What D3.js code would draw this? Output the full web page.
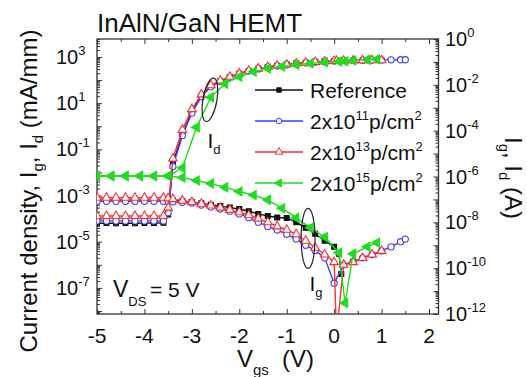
<!DOCTYPE html>
<html>
<head>
<meta charset="utf-8">
<script src="https://cdn.jsdelivr.net/npm/d3@7"></script>
<style>
  body { margin: 0; background: #fff; }
  svg { display: block; font-family: "Liberation Sans", Arial, sans-serif; }
</style>
</head>
<body>
<svg id="chart" width="527" height="377"></svg>
<script>
// ---- data (Vgs in V, Id/Ig in mA/mm) ----
const vRef = [-5, -4.8, -4.6, -4.4, -4.2, -4, -3.8, -3.6, -3.5, -3.4, -3.2, -3, -2.8, -2.6, -2.4, -2.2, -2,
  -1.8, -1.6, -1.4, -1.2, -1, -0.8, -0.6, -0.4, -0.2, 0, 0.1, 0.15];
const idRef = [6.3e-5, 6.4e-5, 6.3e-5, 6.4e-5, 6.3e-5, 6.4e-5, 6.5e-5, 6.6e-5, 1.5e-4, 0.025, 0.45, 4.2, 20, 55, 90, 135, 190,
  250, 310, 370, 420, 470, 520, 570, 620, 650, 680, 690, 690];
const igRef = [6.5e-4, 6.5e-4, 6.5e-4, 6.5e-4, 6.5e-4, 6.5e-4, 6.5e-4, 6.5e-4, 6.4e-4, 6.2e-4, 5.8e-4, 5.3e-4, 4.6e-4, 4e-4, 3.5e-4, 3e-4, 2.6e-4,
  2.1e-4, 1.6e-4, 1.3e-4, 1.12e-4, 1.07e-4, 7e-5, 4e-5, 2.2e-5, 1.1e-5, 6e-6, 3e-6, 4e-7];

const vP11 = [-5, -4.8, -4.6, -4.4, -4.2, -4, -3.8, -3.6, -3.5, -3.4, -3.2, -3, -2.8, -2.6, -2.4, -2.2, -2,
  -1.8, -1.6, -1.4, -1.2, -1, -0.8, -0.6, -0.4, -0.2, 0, 0.2, 0.4, 0.6, 0.8, 1, 1.2, 1.4, 1.5];
const idP11 = [8e-5, 8e-5, 8e-5, 8e-5, 8e-5, 8e-5, 8e-5, 8e-5, 1.8e-4, 0.018, 0.4, 3.8, 19, 52, 88, 132, 185,
  245, 305, 360, 410, 460, 510, 560, 600, 640, 670, 695, 715, 730, 740, 750, 755, 760, 760];
const igP11 = [5.6e-4, 5.6e-4, 5.6e-4, 5.6e-4, 5.6e-4, 5.6e-4, 5.6e-4, 5.6e-4, 5.5e-4, 5.4e-4, 5.1e-4, 4.7e-4, 3.9e-4, 3.2e-4, 2.6e-4, 2.1e-4, 1.6e-4,
  1.1e-4, 7e-5, 4.6e-5, 3.2e-5, 2.1e-5, 1.3e-5, 7e-6, 4.2e-6, 2e-6, 1.6e-7, 1e-6, 1.4e-6, 2e-6, 2.8e-6, 4e-6, 6e-6, 1e-5, 1.3e-5];

const vP13 = [-5, -4.8, -4.6, -4.4, -4.2, -4, -3.8, -3.6, -3.5, -3.4, -3.2, -3, -2.8, -2.6, -2.4, -2.2, -2,
  -1.8, -1.6, -1.4, -1.2, -1, -0.8, -0.6, -0.4, -0.2, 0, 0.05, 0.2, 0.4, 0.6, 0.8, 1];
const idP13 = [1.3e-4, 1.3e-4, 1.3e-4, 1.3e-4, 1.3e-4, 1.3e-4, 1.3e-4, 1.3e-4, 3e-4, 0.04, 0.7, 5.5, 24, 60, 95, 140, 195,
  255, 315, 370, 420, 470, 520, 565, 605, 640, 670, 675, 690, 705, 715, 720, 725];
const igP13 = [8e-4, 8e-4, 8e-4, 8e-4, 8e-4, 8e-4, 8e-4, 8e-4, 7.5e-4, 7e-4, 6e-4, 5.2e-4, 4.4e-4, 3.7e-4, 3e-4, 2.4e-4, 1.9e-4,
  1.4e-4, 1e-4, 7e-5, 4.6e-5, 3.3e-5, 2.1e-5, 1.1e-5, 5.5e-6, 2.8e-6, 1.3e-6, 1e-9, 1e-6, 1.3e-6, 2e-6, 2.8e-6, 4e-6];

const vP15 = [-5, -4.7, -4.4, -4.1, -3.8, -3.5, -3.2, -2.9, -2.6, -2.3, -2, -1.7, -1.4, -1.1, -0.8, -0.5, -0.2, 0.1, 0.23, 0.4, 0.7, 0.9];
const idP15 = [7e-3, 7e-3, 7e-3, 7e-3, 7e-3, 7e-3, 0.016, 0.9, 18, 70, 140, 230, 320, 390, 460, 530, 590, 640, 660, 700, 770, 800];
const igP15 = [7e-3, 7e-3, 7e-3, 7e-3, 7e-3, 7e-3, 6e-3, 4.5e-3, 3.3e-3, 2.3e-3, 1.5e-3, 1.05e-3, 6.5e-4, 2.8e-4, 1.1e-4, 4e-5, 1.6e-5, 3.3e-6, 2.2e-8, 3e-6, 6e-6, 9e-6];

const seriesNames = ["Reference", "2x10", "2x10", "2x10"];
const seriesExp = [null, "11", "13", "15"];
const xTicks = [-5, -4, -3, -2, -1, 0, 1, 2];
const leftExps = [3, 1, -1, -3, -5, -7];
const rightExps = [0, -2, -4, -6, -8, -10, -12];

// ---- layout ----
const svg = d3.select("#chart");
const L = 97, R = 438.5, T = 39, B = 314;
const font = 20;

const x = d3.scaleLinear().domain([-5, 2.2]).range([L, R]);
const yL = d3.scaleLog().domain([Math.pow(10, -8.13), Math.pow(10, 3.78)]).range([B, T]);
const yR = d3.scaleLog().domain([1e-12, 1]).range([B, T]);

svg.append("defs").append("clipPath").attr("id", "plotclip")
  .append("rect").attr("x", L).attr("y", T).attr("width", R - L).attr("height", B - T);

// ticks (inward, all four sides)
function decadeTicks(scale) {
  const [lo, hi] = scale.domain();
  const major = [], minor = [];
  for (let e = Math.floor(Math.log10(lo)); e <= Math.ceil(Math.log10(hi)); e++) {
    for (let m = 1; m < 10; m++) {
      const v = m * Math.pow(10, e);
      if (v < lo || v > hi) continue;
      (m === 1 ? major : minor).push(v);
    }
  }
  return { major, minor };
}
const lt = decadeTicks(yL), rt = decadeTicks(yR);
const xMinor = d3.range(-4.5, 2.2, 1);

function addAxis(axis, tr) {
  const g = svg.append("g").attr("transform", tr).call(axis);
  g.select(".domain").remove();
  g.selectAll("line").attr("stroke", "#333").attr("stroke-width", 1);
  g.selectAll("text").remove();
}
addAxis(d3.axisLeft(yL).tickValues(lt.major).tickSize(-5), `translate(${L},0)`);
addAxis(d3.axisLeft(yL).tickValues(lt.minor).tickSize(-3), `translate(${L},0)`);
addAxis(d3.axisRight(yR).tickValues(rt.major).tickSize(-5), `translate(${R},0)`);
addAxis(d3.axisRight(yR).tickValues(rt.minor).tickSize(-3), `translate(${R},0)`);
addAxis(d3.axisBottom(x).tickValues(xTicks).tickSize(-5), `translate(0,${B})`);
addAxis(d3.axisBottom(x).tickValues(xMinor).tickSize(-3), `translate(0,${B})`);
addAxis(d3.axisTop(x).tickValues(xTicks).tickSize(-5), `translate(0,${T})`);
addAxis(d3.axisTop(x).tickValues(xMinor).tickSize(-3), `translate(0,${T})`);

svg.append("rect").attr("x", L).attr("y", T).attr("width", R - L).attr("height", B - T)
  .attr("fill", "none").attr("stroke", "#333").attr("stroke-width", 1.3);

// tick labels
svg.append("g").selectAll("text").data(xTicks).join("text")
  .attr("x", d => x(d)).attr("y", 343).attr("text-anchor", "middle")
  .attr("font-size", 21).attr("fill", "#111")
  .text(d => d < 0 ? "-" + Math.abs(d) : d);

function powLabels(exps, scale, x0) {
  const t = svg.append("g").selectAll("text").data(exps).join("text")
    .attr("x", x0).attr("y", d => scale(Math.pow(10, d)) + 7)
    .attr("font-size", font).attr("fill", "#111");
  t.append("tspan").text("10");
  t.append("tspan").attr("font-size", 13).attr("dy", -9)
    .text(d => d < 0 ? "-" + Math.abs(d) : d);
}
powLabels(leftExps, yL, 56);
powLabels(rightExps, yR, 445);

// curves
const series = [
  { v: vRef, id: idRef, ig: igRef, color: "#111", sym: d3.symbolSquare, size: 24, fill: "#111", rot: 0 },
  { v: vP11, id: idP11, ig: igP11, color: "#3c3cff", sym: d3.symbolCircle, size: 30, fill: "#fff", rot: 0 },
  { v: vP13, id: idP13, ig: igP13, color: "#ff2d2d", sym: d3.symbolTriangle, size: 32, fill: "#fff", rot: 0 },
  { v: vP15, id: idP15, ig: igP15, color: "#1fdc1f", sym: d3.symbolTriangle, size: 36, fill: "#1fdc1f", rot: -90 }
];

const plot = svg.append("g").attr("clip-path", "url(#plotclip)");
const line = d3.line().x(d => x(d[0])).y(d => yL(d[1]));

series.forEach(s => {
  [s.id, s.ig].forEach(vals => {
    const pts = s.v.map((v, i) => [v, vals[i]]);
    plot.append("path").attr("d", line(pts))
      .attr("fill", "none").attr("stroke", s.color).attr("stroke-width", 1.4);
    plot.append("g").selectAll("path").data(pts).join("path")
      .attr("d", d3.symbol().type(s.sym).size(s.size))
      .attr("transform", d => `translate(${x(d[0])},${yL(d[1])}) rotate(${s.rot})`)
      .attr("fill", s.fill).attr("stroke", s.color).attr("stroke-width", 1.1);
  });
});

// legend
const lg = svg.append("g");
series.forEach((s, i) => {
  const yy = 90 + i * 31;
  lg.append("line").attr("x1", 255).attr("x2", 303).attr("y1", yy).attr("y2", yy)
    .attr("stroke", s.color).attr("stroke-width", 1.4);
  lg.append("path").attr("d", d3.symbol().type(s.sym).size(s.size * 0.8)())
    .attr("transform", `translate(279,${yy}) rotate(${s.rot})`)
    .attr("fill", s.fill).attr("stroke", s.color).attr("stroke-width", 1);
  const t = lg.append("text").attr("x", 310).attr("y", yy + 8).attr("font-size", 21).attr("fill", "#111");
  t.append("tspan").text(seriesNames[i]);
  if (seriesExp[i]) {
    t.append("tspan").attr("font-size", 13).attr("dy", -9).text(seriesExp[i]);
    t.append("tspan").attr("dy", 9).text("p/cm");
    t.append("tspan").attr("font-size", 13).attr("dy", -9).text("2");
  }
});

// annotations
svg.append("ellipse").attr("cx", x(-2.62)).attr("cy", yL(14)).attr("rx", 7).attr("ry", 22)
  .attr("transform", `rotate(10,${x(-2.62)},${yL(14)})`)
  .attr("fill", "none").attr("stroke", "#222").attr("stroke-width", 1.2);
const aId = svg.append("text").attr("x", x(-2.67)).attr("y", yL(0.115)).attr("font-size", 21).attr("fill", "#111");
aId.append("tspan").text("I");
aId.append("tspan").attr("font-size", 13).attr("dy", 6).text("d");

svg.append("ellipse").attr("cx", x(-0.55)).attr("cy", yL(1.4e-5)).attr("rx", 7).attr("ry", 30)
  .attr("fill", "none").attr("stroke", "#222").attr("stroke-width", 1.2);
const aIg = svg.append("text").attr("x", x(-0.52)).attr("y", yL(4e-7) + 17).attr("font-size", 21).attr("fill", "#111");
aIg.append("tspan").text("I");
aIg.append("tspan").attr("font-size", 13).attr("dy", 6).text("g");

const vds = svg.append("text").attr("x", 113).attr("y", 297).attr("font-size", 23).attr("fill", "#111");
vds.append("tspan").text("V");
vds.append("tspan").attr("font-size", 13).attr("dy", 9).text("DS");
vds.append("tspan").attr("x", 150).attr("dy", -9).attr("font-size", 21).text("= 5 V");

// titles
svg.append("text").attr("x", 97).attr("y", 32).attr("font-size", 26).attr("fill", "#111").text("InAlN/GaN HEMT");

const xt = svg.append("text").attr("x", 237).attr("y", 367).attr("font-size", 24).attr("fill", "#111");
xt.append("tspan").text("V");
xt.append("tspan").attr("font-size", 15).attr("dy", 8).text("gs");
xt.append("tspan").attr("x", 282).attr("dy", -8).text("(V)");

const yt = svg.append("text").attr("transform", "translate(37,191) rotate(-90)")
  .attr("text-anchor", "middle").attr("font-size", 24).attr("fill", "#111");
yt.append("tspan").text("Current density, I");
yt.append("tspan").attr("font-size", 15).attr("dy", 6).text("g");
yt.append("tspan").attr("dy", -6).text(", I");
yt.append("tspan").attr("font-size", 15).attr("dy", 6).text("d");
yt.append("tspan").attr("dy", -6).text(" (mA/mm)");

const rtl = svg.append("text").attr("transform", "translate(505,178) rotate(90)")
  .attr("text-anchor", "middle").attr("font-size", 24).attr("fill", "#111");
rtl.append("tspan").text("I");
rtl.append("tspan").attr("font-size", 15).attr("dy", 6).text("g");
rtl.append("tspan").attr("dy", -6).text(", I");
rtl.append("tspan").attr("font-size", 15).attr("dy", 6).text("d");
rtl.append("tspan").attr("dy", -6).text(" (A)");
</script>
</body>
</html>
